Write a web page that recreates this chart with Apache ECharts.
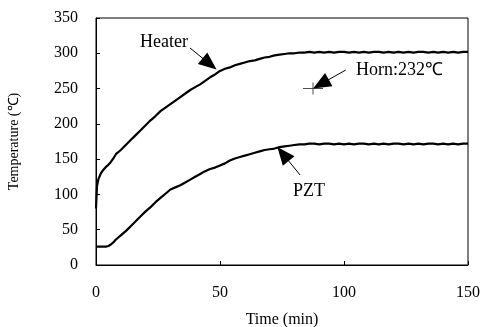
<!DOCTYPE html>
<html><head><meta charset="utf-8">
<script src="https://cdn.jsdelivr.net/npm/echarts@6/dist/echarts.min.js"></script>
<style>html,body{margin:0;padding:0;background:#fff}#c{width:483px;height:327px}</style>
</head><body><div id="c"></div>
<script>
var heaterTime = [0,0.4,1,2,3,4,5,6,7,8,10,12,14,16,18,20,22,24,26,28,30,32,34,36,38,40,42,44,46,48,50,52,54,56,58,60,62,64,66,68,70,72,74,76,78,80,82,84,
 86,88,90,92,94,96,98,100,102,104,106,108,110,112,114,116,118,120,122,124,126,128,130,132,134,136,138,140,142,144,146,148,150];
var heaterTemp = [80,112,122,130,135,139,142,146,151,157,163,170,177,184,191,198,205,211,218,223,228,233,238,243,248,252,256,261,266,270,275,278,280,283,285,287,289,290,292,294,295,297,298,299,300,300,301,301,
 302,301,302,301,302,301,302,302,301,302,301,302,301,302,302,301,302,301,302,301,302,301,302,302,301,302,301,302,301,302,301,302,302];
var pztTime = [0,2,4,5,6,7,8,9,10,12,14,16,18,20,22,24,26,28,30,32,34,36,38,40,42,44,46,48,50,52,54,56,58,60,62,64,66,68,70,72,74,76,78,80,82,84,86,
 88,90,92,94,96,98,100,102,104,106,108,110,112,114,116,118,120,122,124,126,128,130,132,134,136,138,140,142,144,146,148,150];
var pztTemp = [26,26,26,27,29,32,36,39,42,48,55,62,69,76,82,89,95,101,107,110,113,117,121,125,129,133,136,138,141,144,148,151,153,155,157,159,161,163,164,165,167,168,169,170,171,171,172,
 172,171,172,172,171,172,171,172,171,172,172,171,172,171,172,171,172,172,171,172,171,172,171,172,172,171,172,171,172,171,172,172];
var hornPoint = [87.5, 250];
var xTicks = [0, 50, 100, 150];
var yTicks = [0, 50, 100, 150, 200, 250, 300, 350];
var arrows = [
  {from: [37.9, 307.5], to: [45.8, 285.0]},
  {from: [100.7, 276.3], to: [90.7, 256.4]},
  {from: [82.3, 127.5], to: [75.4, 157.3]}
];

function zip(a, b) { return a.map(function (v, i) { return [v, b[i]]; }); }
var FONT = 'Liberation Serif';
var chart = echarts.init(document.getElementById('c'));
chart.setOption({
  animation: false,
  grid: {left: 96, top: 18, right: 15, bottom: 62, containLabel: false, outerBoundsMode: 'none',
         show: true, borderColor: '#000', borderWidth: 1},
  xAxis: {
    type: 'value', min: xTicks[0], max: xTicks[xTicks.length - 1], interval: 50,
    splitLine: {show: false},
    axisLine: {lineStyle: {color: '#000', width: 1}},
    axisTick: {inside: true, length: 4, lineStyle: {color: '#000'}},
    axisLabel: {color: '#000', fontFamily: FONT, fontSize: 16, margin: 20},
    name: 'Time (min)', nameLocation: 'middle', nameGap: 47,
    nameTextStyle: {color: '#000', fontFamily: FONT, fontSize: 16}
  },
  yAxis: {
    type: 'value', min: yTicks[0], max: yTicks[yTicks.length - 1], interval: 50,
    splitLine: {show: false},
    axisLine: {lineStyle: {color: '#000', width: 1}},
    axisTick: {inside: true, length: 4, lineStyle: {color: '#000'}},
    axisLabel: {color: '#000', fontFamily: FONT, fontSize: 16, margin: 18},
    name: 'Temperature (℃)', nameLocation: 'middle', nameGap: 75,
    nameTextStyle: {color: '#000', fontFamily: FONT, fontSize: 14}
  },
  series: [
    {type: 'line', data: zip(heaterTime, heaterTemp), showSymbol: false, symbol: 'none',
     lineStyle: {color: '#000', width: 2.2}},
    {type: 'line', data: zip(pztTime, pztTemp), showSymbol: false, symbol: 'none',
     lineStyle: {color: '#000', width: 2.2}},
    {type: 'scatter', data: [hornPoint], symbol: 'path://M0,5.5H20V6.5H0Z M9.5,0H10.5V12H9.5Z',
     symbolSize: [20, 12], itemStyle: {color: '#222'}, z: 3},
    {type: 'line', data: [], silent: true,
     markLine: {
       silent: true, animation: false,
       symbol: ['none', 'triangle'], symbolSize: [15, 18],
       lineStyle: {color: '#000', width: 1, type: 'solid'},
       label: {show: false},
       data: arrows.map(function (a) { return [{coord: a.from}, {coord: a.to}]; })
     }}
  ],
  graphic: [
    {type: 'text', left: 140, top: 33, style: {text: 'Heater', font: '18px "Liberation Serif"', fill: '#000'}},
    {type: 'text', left: 356, top: 61, style: {text: 'Horn:232℃', font: '18px "Liberation Serif"', fill: '#000'}},
    {type: 'text', left: 293, top: 182, style: {text: 'PZT', font: '18px "Liberation Serif"', fill: '#000'}}
  ]
});
</script></body></html>
